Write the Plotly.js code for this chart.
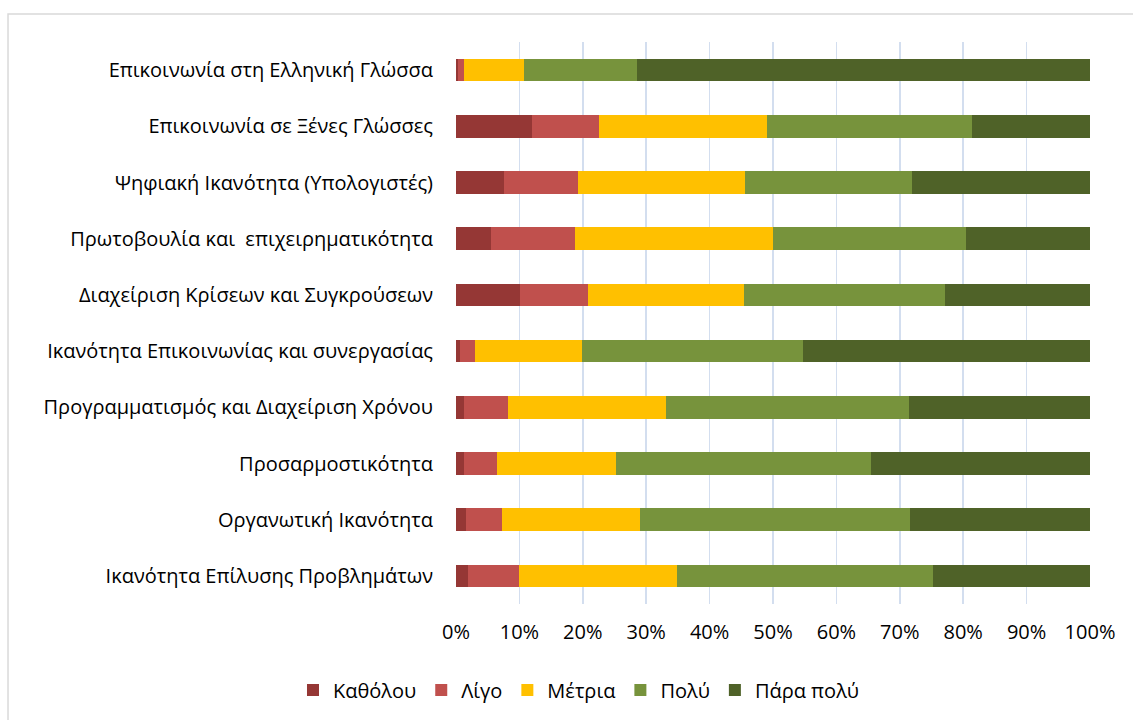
<!DOCTYPE html>
<html>
<head>
<meta charset="utf-8">
<script src="https://cdn.plot.ly/plotly-3.0.1.min.js"></script>
<style>
  html, body { margin: 0; padding: 0; background: #ffffff; }
  #chart { width: 1133px; height: 720px; }
</style>
</head>
<body>
<div id="chart"></div>
<script>
// Categories, top to bottom
const categories = [
  "Επικοινωνία στη Ελληνική Γλώσσα",
  "Επικοινωνία σε Ξένες Γλώσσες",
  "Ψηφιακή Ικανότητα (Υπολογιστές)",
  "Πρωτοβουλία και  επιχειρηματικότητα",
  "Διαχείριση Κρίσεων και Συγκρούσεων",
  "Ικανότητα Επικοινωνίας και συνεργασίας",
  "Προγραμματισμός και Διαχείριση Χρόνου",
  "Προσαρμοστικότητα",
  "Οργανωτική Ικανότητα",
  "Ικανότητα Επίλυσης Προβλημάτων"
];

const seriesNames = ["Καθόλου", "Λίγο", "Μέτρια", "Πολύ", "Πάρα πολύ"];

// Percentages per category (same order as categories)
const katholou  = [0.3, 12.0,  7.5,  5.5, 10.1,  0.7,  1.3,  1.3,  1.6,  1.9];
const ligo      = [0.9, 10.6, 11.7, 13.3, 10.7,  2.3,  6.9,  5.2,  5.7,  8.0];
const metria    = [9.5, 26.5, 26.4, 31.2, 24.6, 16.9, 24.9, 18.8, 21.8, 24.9];
const poly      = [17.8, 32.3, 26.4, 30.4, 31.7, 34.9, 38.4, 40.1, 42.5, 40.5];
const paraPoly  = [71.5, 18.6, 28.0, 19.6, 22.9, 45.2, 28.5, 34.6, 28.4, 24.7];

const tickVals = [0, 10, 20, 30, 40, 50, 60, 70, 80, 90, 100];
const tickText = ["0%", "10%", "20%", "30%", "40%", "50%", "60%", "70%", "80%", "90%", "100%"];

const colors = ["#953735", "#C0504D", "#FFC000", "#77933C", "#4F6228"];
const seriesValues = [katholou, ligo, metria, poly, paraPoly];

const FONT = "Open Sans, Noto Sans, sans-serif";
const FS = 20;

const traces = seriesValues.map((vals, i) => ({
  type: "bar",
  orientation: "h",
  name: seriesNames[i],
  y: categories,
  x: vals,
  width: 0.4,
  marker: { color: colors[i], line: { width: 0 } },
  hoverinfo: "x+y+name"
}));

const layout = {
  width: 1133,
  height: 720,
  barmode: "stack",
  paper_bgcolor: "#ffffff",
  plot_bgcolor: "#ffffff",
  margin: { l: 456, r: 43, t: 42, b: 115 },
  font: { family: FONT, size: FS, color: "#000000" },
  xaxis: {
    range: [0, 100],
    tickvals: tickVals,
    ticktext: tickText,
    showgrid: true,
    gridcolor: "#d3deef",
    gridwidth: 1.5,
    zeroline: false,
    showline: false,
    ticks: "",
    ticklabelstandoff: 14,
    tickfont: { family: FONT, size: FS, color: "#000000" },
    fixedrange: true
  },
  yaxis: {
    type: "category",
    autorange: "reversed",
    showgrid: false,
    zeroline: false,
    showline: false,
    ticks: "",
    ticklabelstandoff: 22,
    tickfont: { family: FONT, size: FS, color: "#000000" },
    fixedrange: true
  },
  showlegend: true,
  legend: {
    orientation: "h",
    x: 0.194,
    xanchor: "center",
    y: -0.151,
    yanchor: "middle",
    font: { family: FONT, size: FS, color: "#000000" },
    traceorder: "normal",
    itemwidth: 30,
    bgcolor: "rgba(0,0,0,0)"
  },
  shapes: [
    {
      type: "rect",
      xref: "paper", yref: "paper",
      x0: -0.7066, x1: 1.08, y0: -0.23, y1: 1.0497,
      line: { color: "#d9d9d9", width: 1.5 },
      fillcolor: "rgba(0,0,0,0)",
      layer: "below"
    }
  ]
};

Plotly.newPlot("chart", traces, layout, { displayModeBar: false, staticPlot: true });
</script>
</body>
</html>
